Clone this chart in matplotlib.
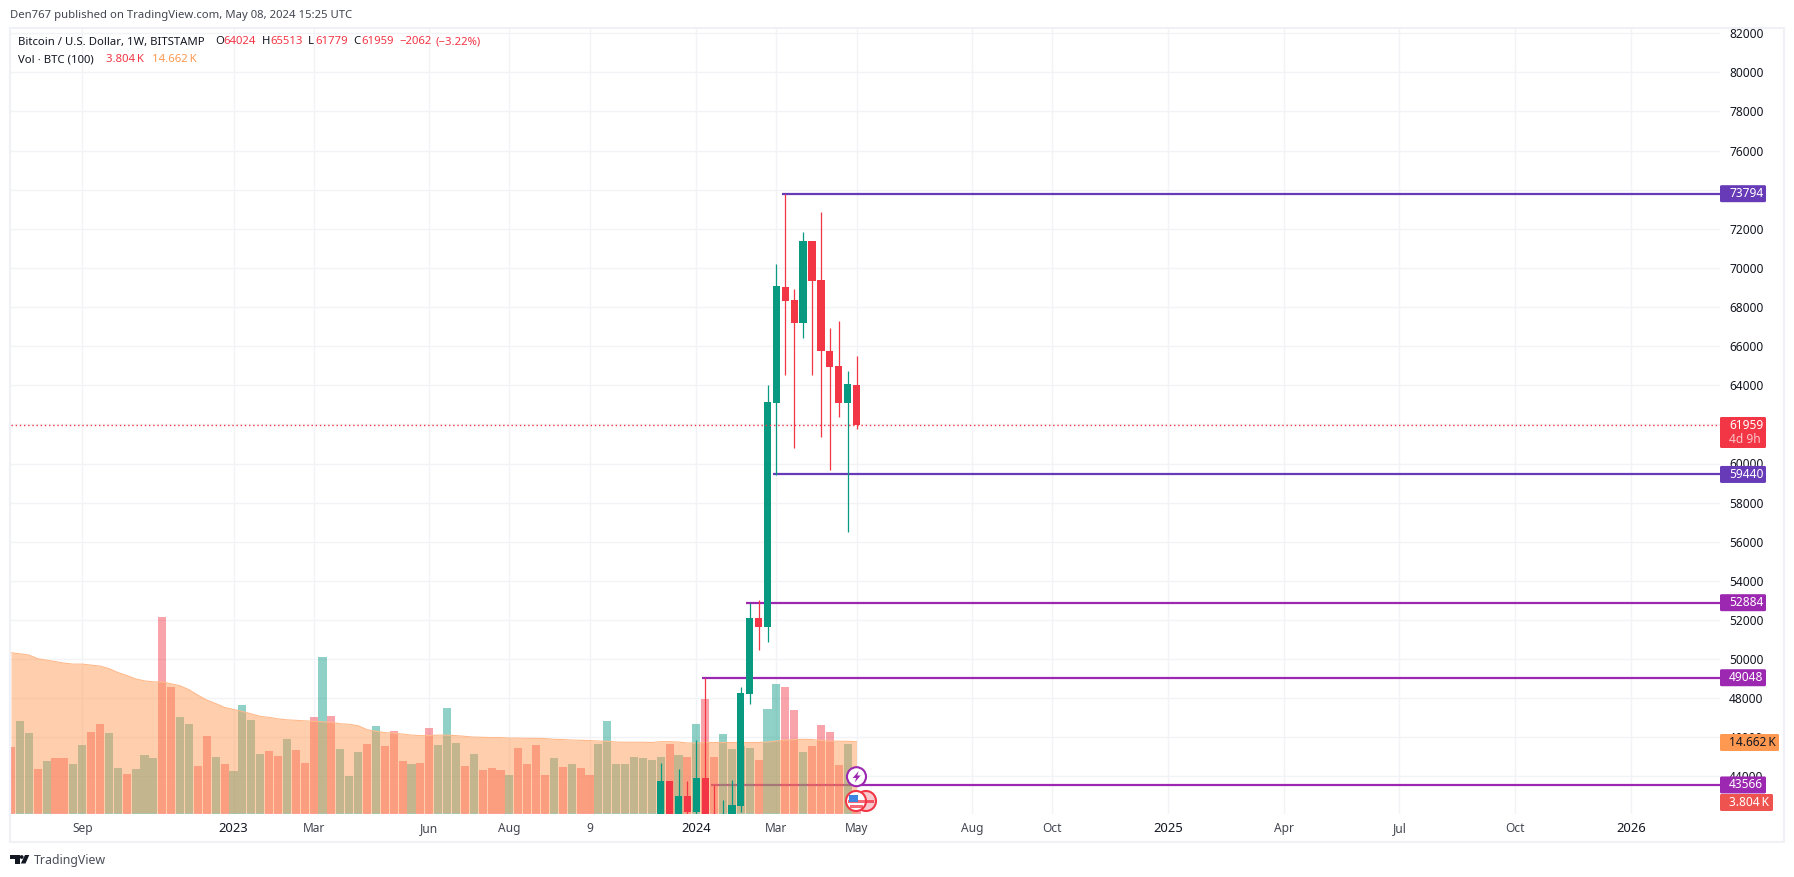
import matplotlib
matplotlib.use("Agg")
import matplotlib.pyplot as plt
import matplotlib.transforms as mtrans
from matplotlib.patches import Circle, FancyBboxPatch, Polygon, Rectangle

plt.rcParams["font.family"] = ["Noto Sans", "DejaVu Sans"]

# weekly candles, oldest first, last one is week 0
candle_weeks = list(range(-22, 1))
opens = [41000, 43750, 41360, 42990, 42170, 43920, 41700, 39000, 41800, 42500, 48220, 52120,
         51660, 63090, 69040, 68380, 67200, 71350, 69400, 65760, 64990, 63092, 64024]
highs = [44683, 43750, 44375, 43750, 45860, 49048, 43566, 42790, 43810, 48580, 52884, 53000,
         64030, 70220, 73794, 68940, 71810, 71350, 72840, 66940, 67300, 64733, 65513]
lows = [40300, 40900, 40200, 40500, 40800, 41500, 38500, 38500, 41000, 42200, 47710, 50480,
        50890, 59400, 64530, 60790, 66430, 64530, 61350, 59660, 62400, 56477, 61779]
closes = [43750, 41000, 42990, 42170, 43920, 41700, 41000, 41800, 42540, 48270, 52120, 51660,
          63140, 69090, 68320, 67200, 71350, 69350, 65760, 64940, 63092, 64066, 61959]

# volume in thousand BTC, 96 weeks up to week 0
volumes = [13.5, 18.8, 16.4, 9.1, 10.7, 11.3, 11.3, 10.1, 13.9, 16.6, 18.2, 16.4, 9.3, 8.2, 9.1, 11.9,
           11.3, 40.0, 25.7, 19.6, 18.2, 9.7, 15.8, 11.5, 10.1, 8.7, 22.2, 19.0, 12.1, 12.7, 11.7, 15.3,
           12.9, 10.3, 19.6, 31.8, 19.8,
           13.1, 7.8, 12.5, 14.3, 17.8, 13.7, 16.8, 10.7, 10.1, 10.3, 17.4, 13.9, 21.6, 14.5, 9.7, 12.1,
           8.9, 9.3, 8.9, 8.0, 13.3, 10.1, 13.9, 8.0, 11.3, 9.5, 10.1, 9.3, 8.0, 14.1, 18.8, 10.1, 10.1,
           11.5, 11.3, 10.9,
           11.6, 14.2, 12.0, 11.6, 18.3, 23.3, 11.6, 16.2, 13.2, 13.8, 13.4, 11.0, 21.3, 26.4, 25.8, 21.1,
           12.6, 13.8, 18.1, 16.6, 9.9, 14.2, 3.804]
volume_dirs = ("RGGRGRRGGRRGGRGGGRRGGRRGRGGGGRRGRRRGR"
               "GGGRGRRRGRRGGGRGRRRGRRRRGRGRRGGGGGGG"
               "GRGRGRRGGGGRGGRRGRRRRGR")
volume_ma = [32.7, 32.5, 32.25, 31.5, 31.2, 30.9, 30.6, 30.4, 30.4, 30.2, 30.0, 29.5, 28.7, 28.1, 27.4, 27.0,
             26.8, 26.8, 26.4, 26.0, 25.2, 24.1, 23.1, 22.4, 21.6, 21.2, 20.8, 20.3, 19.8, 19.6, 19.3, 19.1,
             19.0, 18.9, 18.8, 18.7, 18.6,
             18.3, 18.2, 17.9, 17.1, 16.8, 16.5, 16.4, 16.2, 16.0, 15.9, 15.9, 16.0, 16.0, 15.9, 15.75, 15.6,
             15.55, 15.5, 15.5, 15.4, 15.4, 15.35, 15.35, 15.3, 15.15, 15.1, 15.0, 14.95, 14.9, 14.8, 14.75,
             14.6, 14.55, 14.55, 14.55, 14.5,
             14.67, 14.67, 14.6, 14.4, 14.4, 14.5, 14.5, 14.5, 14.5, 14.5, 14.5, 14.5, 14.6, 14.8, 15.0, 15.1,
             15.15, 15.1, 14.9, 14.8, 14.75, 14.75, 14.662]
volume_weeks = list(range(-95, 1))

# horizontal levels: price, first week, colour
level_prices = [73794, 59440, 52884, 49048, 43566]
level_weeks = [-8, -9, -12, -17, -16]
level_colors = ["#673ab7", "#673ab7", "#9c27b0", "#9c27b0", "#9c27b0"]
last_price = 61959

price_ticks = list(range(44000, 84000, 2000))
date_weeks = [-87, -70, -61, -48, -39, -30, -18, -9, 0, 13, 22, 35, 48, 61, 74, 87]
date_labels = ["Sep", "2023", "Mar", "Jun", "Aug", "9", "2024", "Mar", "May", "Aug", "Oct",
               "2025", "Apr", "Jul", "Oct", "2026"]

GREEN = "#089981"
RED = "#f23645"
TEXT = "#131722"
GRID = "#f2f3f6"
FRAME = "#eff1f6"

W, H = 1794, 877
PANE_L, PANE_R, PANE_T, PANE_B = 11, 1720, 29, 814
WEEK_PX = 8.9
WEEK0_X = 856.5
PRICE_PX = 0.01956  # pixels per dollar
Y60K = 463.5
VOL_PX = 4.93       # pixels per thousand BTC


def price_y(p):
    return Y60K - (p - 60000) * PRICE_PX


fig = plt.figure(figsize=(W / 100, H / 100), dpi=100, facecolor="white")
ax = fig.add_axes([PANE_L / W, 1 - PANE_B / H, (PANE_R - PANE_L) / W, (PANE_B - PANE_T) / H])
ax.set_xlim((PANE_L - WEEK0_X) / WEEK_PX, (PANE_R - WEEK0_X) / WEEK_PX)
ax.set_ylim(60000 + (Y60K - PANE_B) / PRICE_PX, 60000 + (Y60K - PANE_T) / PRICE_PX)
for s in ax.spines.values():
    s.set_visible(False)

ax.yaxis.tick_right()
ax.set_yticks(price_ticks)
ax.set_yticklabels([str(t) for t in price_ticks], fontsize=8.6, color=TEXT)
ax.set_xticks(date_weeks)
ax.set_xticklabels(date_labels, fontsize=8.6, color="#434651")
for lab in ax.get_xticklabels():
    if len(lab.get_text()) == 4:
        lab.set_color(TEXT)
        lab.set_fontsize(9.4)
        lab.set_fontweight("semibold")
ax.tick_params(length=0)
ax.tick_params(axis="y", pad=6.5)
ax.tick_params(axis="x", pad=5.5)
ax.grid(True, color=GRID, lw=1)
ax.set_axisbelow(True)

# levels sit under the volume
xmax = ax.get_xlim()[1]
for p, wk, c in zip(level_prices, level_weeks, level_colors):
    ax.hlines(p, wk - 0.4, xmax, color=c, lw=1.6, zorder=1.5)

# volume shares x with the price scale, y has its own scale
vol_top = (PANE_B - PANE_T) / VOL_PX
vol_y = mtrans.Affine2D().scale(1, 1 / vol_top) + ax.transAxes
vol_trans = mtrans.blended_transform_factory(ax.transData, vol_y)
vol_colors = [GREEN if d == "G" else RED for d in volume_dirs]
ax.bar(volume_weeks, volumes, width=0.9, color=vol_colors, alpha=0.45, lw=0, transform=vol_trans, zorder=2)
ax.fill_between(volume_weeks, 0.2, volume_ma, color="#ff9850", alpha=0.47, lw=0, transform=vol_trans, zorder=3)
ax.plot(volume_weeks, volume_ma, color="#ffb98a", lw=0.8, transform=vol_trans, zorder=3)

# candles
for wk, o, h, l, c in zip(candle_weeks, opens, highs, lows, closes):
    col = GREEN if c >= o else RED
    ax.vlines(wk, l, h, color=col, lw=0.9, zorder=4)
    ax.bar(wk, abs(c - o), bottom=min(o, c), width=0.82, color=col, lw=0, zorder=4)

ax.axhline(last_price, color=RED, lw=1, ls=(0, (1, 2)), zorder=5)

# overlay in pixels for labels, frame and logo
ov = fig.add_axes([0, 0, 1, 1], zorder=5)
ov.set_xlim(0, W)
ov.set_ylim(H, 0)
ov.axis("off")
ov.patch.set_visible(False)

ov.add_patch(Rectangle((10, 27.5), 1774, 814.5, fill=False, ec=FRAME, lw=1.5))


def tag(y0, y1, x1, color):
    ov.add_patch(FancyBboxPatch((PANE_R, y0), x1 - PANE_R, y1 - y0,
                                boxstyle="round,pad=0,rounding_size=1.5", fc=color, ec="none"))


for p, c in zip(level_prices, level_colors):
    y = price_y(p)
    tag(y - 8.5, y + 8.5, 1766, c)
    ov.text(1729, y, str(p), color="white", fontsize=8.6, va="center", ha="left", fontweight="semibold")

tag(417, 448, 1766, RED)
ov.text(1729, 425.5, str(last_price), color="white", fontsize=8.6, va="center", fontweight="semibold")
ov.text(1729, 439.5, "4d 9h", color="#fbc4c8", fontsize=8.6, va="center", fontweight="semibold")

tag(734, 751, 1779, "#ff9850")
ov.text(1729, 742.5, "14.662\u2009K", color=TEXT, fontsize=8.6, va="center")
tag(794, 811, 1773, "#ef5350")
ov.text(1729, 802.5, "3.804\u2009K", color="white", fontsize=8.6, va="center", fontweight="semibold")

# event icons on the last candle
ov.add_patch(Circle((866, 801), 10, fc="#f8c9cd", ec=RED, lw=1.5))
ov.add_patch(Rectangle((860, 799.5), 14, 3.5, fc=RED, ec="none", alpha=0.8))
ov.add_patch(Circle((856, 801), 10, fc="white", ec=RED, lw=1.5))
ov.add_patch(Rectangle((847.5, 799.5), 17, 3.5, fc=RED, ec="none", alpha=0.75))
ov.add_patch(Rectangle((849.5, 805), 13, 2.5, fc=RED, ec="none", alpha=0.75))
ov.add_patch(Rectangle((848.5, 794.5), 9, 7.5, fc="#3d85e0", ec="none"))
ov.add_patch(Circle((856.5, 776.7), 9.5, fc="white", ec="#9c27b0", lw=1.5))
ov.add_patch(Polygon([(858.7, 771), (852.7, 778), (856.2, 778), (854.7, 782.5), (860.7, 775.5), (857.2, 775.5)],
                     fc="#9c27b0", ec="none"))

# header and legend
ov.text(10, 15.5, "Den767 published on TradingView.com, May 08, 2024 15:25 UTC",
        color="#434651", fontsize=8.15, va="center")
row1 = [(18, "Bitcoin / U.S. Dollar, 1W, BITSTAMP", TEXT), (215, "O", TEXT), (223, "64024", RED),
        (262, "H", TEXT), (270, "65513", RED), (308, "L", TEXT), (315, "61779", RED),
        (353, "C", TEXT), (361, "61959", RED), (399, "\u22122062", RED), (435, "(\u22123.22%)", RED)]
for x, s, c in row1:
    ov.text(x, 42, s, color=c, fontsize=8.15, va="center")
row2 = [(18, "Vol \u00b7 BTC (100)", TEXT), (106, "3.804\u2009K", RED), (152, "14.662\u2009K", "#ff9850")]
for x, s, c in row2:
    ov.text(x, 60, s, color=c, fontsize=8.15, va="center")

# TradingView logo
ov.add_patch(Polygon([(10, 855), (19.5, 855), (19.5, 863.5), (14.5, 863.5), (14.5, 858.5), (10, 858.5)],
                     fc=TEXT, ec="none"))
ov.add_patch(Circle((21.7, 857), 1.9, fc=TEXT, ec="none"))
ov.add_patch(Polygon([(25, 855), (29.3, 855), (25.5, 863.5), (20.8, 863.5)], fc=TEXT, ec="none"))
ov.text(33.5, 860.5, "TradingView", color="#4a4e59", fontsize=8.9, va="center")

fig.savefig("out.png", dpi=100)
